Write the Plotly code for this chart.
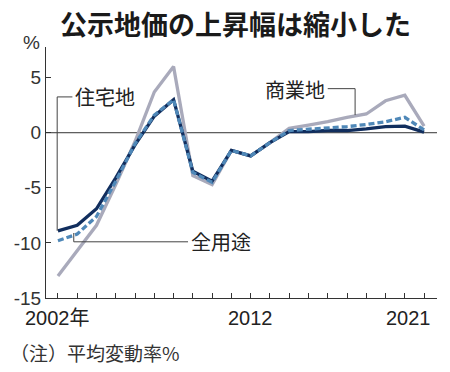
import plotly.graph_objects as go

years = list(range(2002, 2022))
residential = [-8.9, -8.4, -6.9, -4.1, -1.1, 1.5, 3.0, -3.5, -4.4, -1.6, -2.1, -0.9, 0.1, 0.1, 0.2, 0.2, 0.35, 0.55, 0.6, 0.05]
all_use = [-9.8, -9.2, -7.6, -4.4, -1.0, 1.6, 3.0, -3.6, -4.5, -1.6, -2.1, -0.9, 0.2, 0.3, 0.4, 0.55, 0.75, 1.0, 1.4, 0.25]
commercial = [-13.0, -10.7, -8.4, -4.7, -0.8, 3.7, 6.0, -3.9, -4.7, -1.6, -2.1, -0.9, 0.4, 0.7, 1.0, 1.4, 1.7, 2.9, 3.4, 0.6]

y_ticks = [-15, -10, -5, 0, 5]
y_ticktext = ["-15", "-10", "-5", "0", "5"]
x_labels = {2002: "2002年", 2012: "2012", 2021: "2021"}

title = "公示地価の上昇幅は縮小した"
note = "（注）平均変動率%"

NUM_FONT = "Liberation Sans, Arial, sans-serif"
JP_FONT = "Noto Sans CJK JP, sans-serif"

C_COM = "#a9aabb"
C_RES = "#112e5e"
C_ALL = "#4f88b8"

W, H = 450, 372
ML, MR, MT, MB = 46, 13, 47, 74
PW, PH = W - ML - MR, H - MT - MB

def px_x(px):
    return (px - ML) / PW

def px_y(py):
    return (H - MB - py) / PH

fig = go.Figure()
fig.add_trace(go.Scatter(x=years, y=commercial, mode="lines", name="商業地",
                         line=dict(color=C_COM, width=3.3), hoverinfo="skip"))
fig.add_trace(go.Scatter(x=years, y=residential, mode="lines", name="住宅地",
                         line=dict(color=C_RES, width=3.3), hoverinfo="skip"))
fig.add_trace(go.Scatter(x=years, y=all_use, mode="lines", name="全用途",
                         line=dict(color=C_ALL, width=3.3, dash="6px,3px"), hoverinfo="skip"))

# zero line
fig.add_shape(type="line", xref="paper", yref="y", x0=0, x1=1, y0=0, y1=0,
              line=dict(color="#333333", width=1), layer="below")

LC = "#444444"
TXT = dict(family=JP_FONT, size=20, color="#222222")
# 住宅地 callout
fig.add_shape(type="line", xref="x", yref="y", x0=2001.96, x1=2001.96, y0=residential[0], y1=3.25,
              line=dict(color=LC, width=1))
fig.add_shape(type="line", xref="x", yref="y", x0=2001.96, x1=2002.75, y0=3.25, y1=3.25,
              line=dict(color=LC, width=1))
fig.add_annotation(x=2002.78, y=3.25, xref="x", yref="y", text="住宅地", showarrow=False,
                   xanchor="left", yanchor="middle", font=TXT)
# 全用途 callout
fig.add_shape(type="line", xref="x", yref="y", x0=2002.82, x1=2002.82, y0=all_use[1] + 0.1, y1=-9.9,
              line=dict(color=LC, width=1))
fig.add_shape(type="line", xref="x", yref="y", x0=2002.82, x1=2008.75, y0=-9.9, y1=-9.9,
              line=dict(color=LC, width=1))
fig.add_annotation(x=2008.8, y=-9.9, xref="x", yref="y", text="全用途", showarrow=False,
                   xanchor="left", yanchor="middle", font=TXT)
# 商業地 callout
fig.add_shape(type="line", xref="x", yref="y", x0=2017.42, x1=2017.42, y0=1.6, y1=4.0,
              line=dict(color=LC, width=1))
fig.add_shape(type="line", xref="x", yref="y", x0=2016.0, x1=2017.42, y0=4.0, y1=4.0,
              line=dict(color=LC, width=1))
fig.add_annotation(x=2015.98, y=3.9, xref="x", yref="y", text="商業地", showarrow=False,
                   xanchor="right", yanchor="middle", font=TXT)

# x labels
for yr, txt in x_labels.items():
    shift = 9 if yr == 2021 else 0
    anchor = "right" if yr == 2021 else "center"
    fig.add_annotation(x=yr, y=px_y(318), xref="x", yref="paper", text=txt, showarrow=False,
                       xanchor=anchor, yanchor="middle", xshift=shift,
                       font=dict(family=NUM_FONT + ", " + JP_FONT, size=20, color="#222222"))

# % label
fig.add_annotation(x=px_x(31), y=px_y(42), xref="paper", yref="paper", text="%", showarrow=False,
                   xanchor="center", yanchor="middle",
                   font=dict(family=NUM_FONT, size=19, color="#333333"))
# title
fig.add_annotation(x=px_x(235), y=px_y(23), xref="paper", yref="paper", text="<b>" + title + "</b>",
                   showarrow=False, xanchor="center", yanchor="middle",
                   font=dict(family=JP_FONT, size=27, color="#1a1a1a"))
# note
fig.add_annotation(x=px_x(8), y=px_y(352), xref="paper", yref="paper", text=note, showarrow=False,
                   xanchor="left", yanchor="middle", font=dict(family=JP_FONT, size=19, color="#333333"))

fig.update_layout(
    width=W, height=H,
    margin=dict(l=ML, r=MR, t=MT, b=MB),
    paper_bgcolor="white", plot_bgcolor="white",
    showlegend=False, hovermode=False,
)

fig.update_xaxes(range=[2001.38, 2021.67], showgrid=False, zeroline=False, automargin=False,
                 showline=True, linecolor="#333333", linewidth=1,
                 ticks="inside", ticklen=5, tickcolor="#333333", tickwidth=1,
                 tickvals=years, showticklabels=False)
fig.update_yaxes(range=[-15, 7.78], showgrid=False, zeroline=False, automargin=False,
                 showline=True, linecolor="#333333", linewidth=1,
                 ticks="inside", ticklen=5, tickcolor="#333333", tickwidth=1,
                 tickvals=y_ticks, ticktext=y_ticktext,
                 tickfont=dict(family=NUM_FONT, size=19, color="#333333"))

fig.write_html("out.html",
               config={"displayModeBar": False, "staticPlot": True},
               post_script="document.body.style.margin='0';document.body.style.padding='0';")
